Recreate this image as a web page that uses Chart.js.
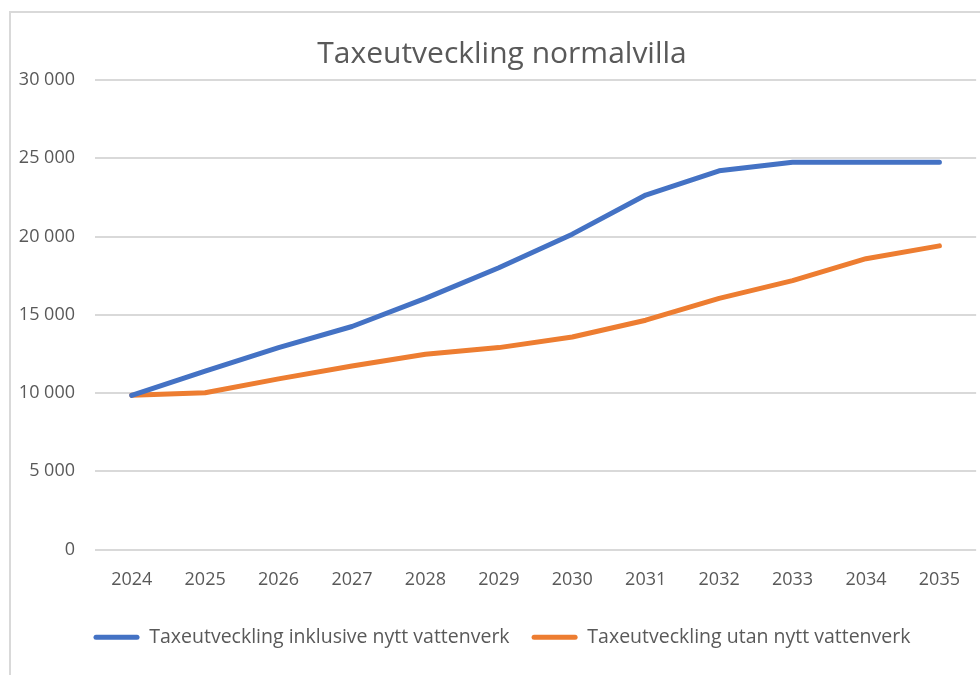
<!DOCTYPE html>
<html lang="sv">
<head>
<meta charset="utf-8">
<title>Taxeutveckling normalvilla</title>
<script src="https://cdn.jsdelivr.net/npm/chart.js@4.4.1/dist/chart.umd.min.js"></script>
<style>
  html, body { margin: 0; padding: 0; background: #ffffff; }
  body { width: 980px; height: 675px; overflow: hidden; position: relative; }
  .frame {
    position: absolute; left: 9px; top: 11px; width: 1000px; height: 700px;
    border-left: 2px solid #d9d9d9; border-top: 2px solid #d9d9d9;
    box-sizing: border-box;
  }
  .wrap { position: absolute; left: 0; top: 0; width: 980px; height: 675px; }
</style>
</head>
<body>
<div class="frame"></div>
<div class="wrap"><canvas id="chart" width="980" height="675"></canvas></div>
<script>
// Years on the category axis
const years = ['2024', '2025', '2026', '2027', '2028', '2029', '2030', '2031', '2032', '2033', '2034', '2035'];

// Annual fee for a standard detached house (kr)
const inklusiveNyttVattenverk = [9850, 11400, 12900, 14250, 16050, 18000, 20150, 22650, 24200, 24750, 24750, 24750];
const utanNyttVattenverk = [9850, 10020, 10900, 11730, 12480, 12900, 13580, 14650, 16050, 17180, 18580, 19400];

const seriesNames = ['Taxeutveckling inklusive nytt vattenverk', 'Taxeutveckling utan nytt vattenverk'];
const chartTitle = 'Taxeutveckling normalvilla';

const FONT = '"Open Sans", Lato, sans-serif';
const TEXT = '#595959';
const GRID = '#d9d9d9';

function spaced(v) {
  return String(v).replace(/\B(?=(\d{3})+(?!\d))/g, ' ');
}

// Title and legend sit centred on the whole frame, slightly right of the canvas centre
const shiftHeaderFooter = {
  id: 'shiftHeaderFooter',
  afterLayout(chart) {
    const dx = 12;
    [chart.titleBlock, chart.legend].forEach((box) => {
      if (box) { box.left += dx; box.right += dx; }
    });
  }
};

new Chart(document.getElementById('chart'), {
  type: 'line',
  data: {
    labels: years,
    datasets: [
      {
        label: seriesNames[0],
        data: inklusiveNyttVattenverk,
        borderColor: '#4472c4',
        backgroundColor: '#4472c4',
        borderWidth: 5,
        pointRadius: 0,
        tension: 0,
        borderCapStyle: 'round',
        borderJoinStyle: 'round'
      },
      {
        label: seriesNames[1],
        data: utanNyttVattenverk,
        borderColor: '#ed7d31',
        backgroundColor: '#ed7d31',
        borderWidth: 5,
        pointRadius: 0,
        tension: 0,
        borderCapStyle: 'round',
        borderJoinStyle: 'round'
      }
    ]
  },
  plugins: [shiftHeaderFooter],
  options: {
    responsive: false,
    animation: false,
    devicePixelRatio: 1,
    layout: { padding: { left: 0, right: 0, top: 0, bottom: 18 } },
    plugins: {
      title: {
        display: true,
        text: chartTitle,
        color: TEXT,
        font: { family: FONT, size: 30, weight: 'normal' },
        padding: { top: 36, bottom: 8 }
      },
      legend: {
        display: true,
        position: 'bottom',
        labels: {
          color: TEXT,
          font: { family: FONT, size: 19.5 },
          boxWidth: 46,
          boxHeight: 5,
          useBorderRadius: true,
          borderRadius: 2.5,
          padding: 22,
          generateLabels(chart) {
            return chart.data.datasets.map((ds, i) => ({
              text: ds.label,
              fillStyle: ds.borderColor,
              strokeStyle: ds.borderColor,
              lineWidth: 0,
              borderRadius: 2.5,
              hidden: false,
              datasetIndex: i,
              fontColor: TEXT
            }));
          }
        }
      },
      tooltip: { enabled: false }
    },
    scales: {
      x: {
        offset: true,
        grid: { display: false, drawTicks: false },
        border: { display: false },
        ticks: {
          color: TEXT,
          font: { family: FONT, size: 18 },
          padding: 20,
          maxRotation: 0
        },
        afterFit(scale) { scale.height = 56; }
      },
      y: {
        min: 0,
        max: 30000,
        grid: { color: GRID, lineWidth: 2, drawTicks: false },
        border: { display: false },
        ticks: {
          stepSize: 5000,
          color: TEXT,
          font: { family: FONT, size: 18 },
          padding: 20,
          callback: (v) => spaced(v)
        },
        afterFit(scale) { scale.width = 95; }
      }
    }
  }
});
</script>
</body>
</html>
